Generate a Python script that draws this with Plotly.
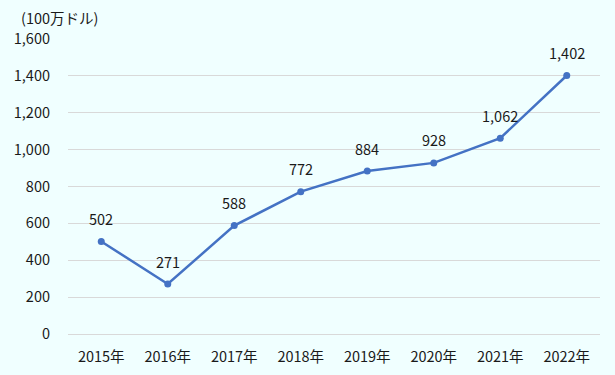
import plotly.graph_objects as go

years = ["2015年", "2016年", "2017年", "2018年", "2019年", "2020年", "2021年", "2022年"]
values = [502, 271, 588, 772, 884, 928, 1062, 1402]
y_ticks = [0, 200, 400, 600, 800, 1000, 1200, 1400, 1600]

FONT = "Noto Sans CJK JP"
BG = "#F0FFFF"
LINE = "#4472C4"
TXT = "#1a1a1a"
FS = 14.5

fig = go.Figure()
fig.add_trace(go.Scatter(
    x=years, y=values, mode="lines+markers",
    line=dict(color=LINE, width=2.5),
    marker=dict(color=LINE, size=7),
    hoverinfo="skip",
))

for x, v in zip(years, values):
    fig.add_annotation(x=x, y=v, text=f"{v:,}", showarrow=False, yshift=23,
                       font=dict(family=FONT, size=FS, color=TXT))

fig.add_annotation(xref="paper", yref="paper", x=-0.092, y=1.072, xanchor="left", yanchor="middle",
                   text="(100万ドル)", showarrow=False,
                   font=dict(family=FONT, size=FS, color=TXT))

fig.update_layout(
    width=615, height=375,
    margin=dict(l=68, r=15, t=39, b=41),
    paper_bgcolor=BG, plot_bgcolor=BG,
    showlegend=False,
    font=dict(family=FONT, size=FS, color=TXT),
    xaxis=dict(type="category", range=[-0.5, len(years) - 0.5],
               showgrid=False, showline=False, ticks="", ticklabelstandoff=12,
               automargin=False,
               tickfont=dict(family=FONT, size=FS, color=TXT)),
    yaxis=dict(range=[0, 1600], tickvals=y_ticks, tickformat=",d",
               showgrid=True, gridcolor="#D9D9D9", gridwidth=1,
               zeroline=True, zerolinecolor="#D9D9D9", zerolinewidth=1,
               showline=False, ticks="", ticklabelstandoff=17,
               automargin=False,
               tickfont=dict(family=FONT, size=FS, color=TXT)),
)

fig.write_html("out.html")
